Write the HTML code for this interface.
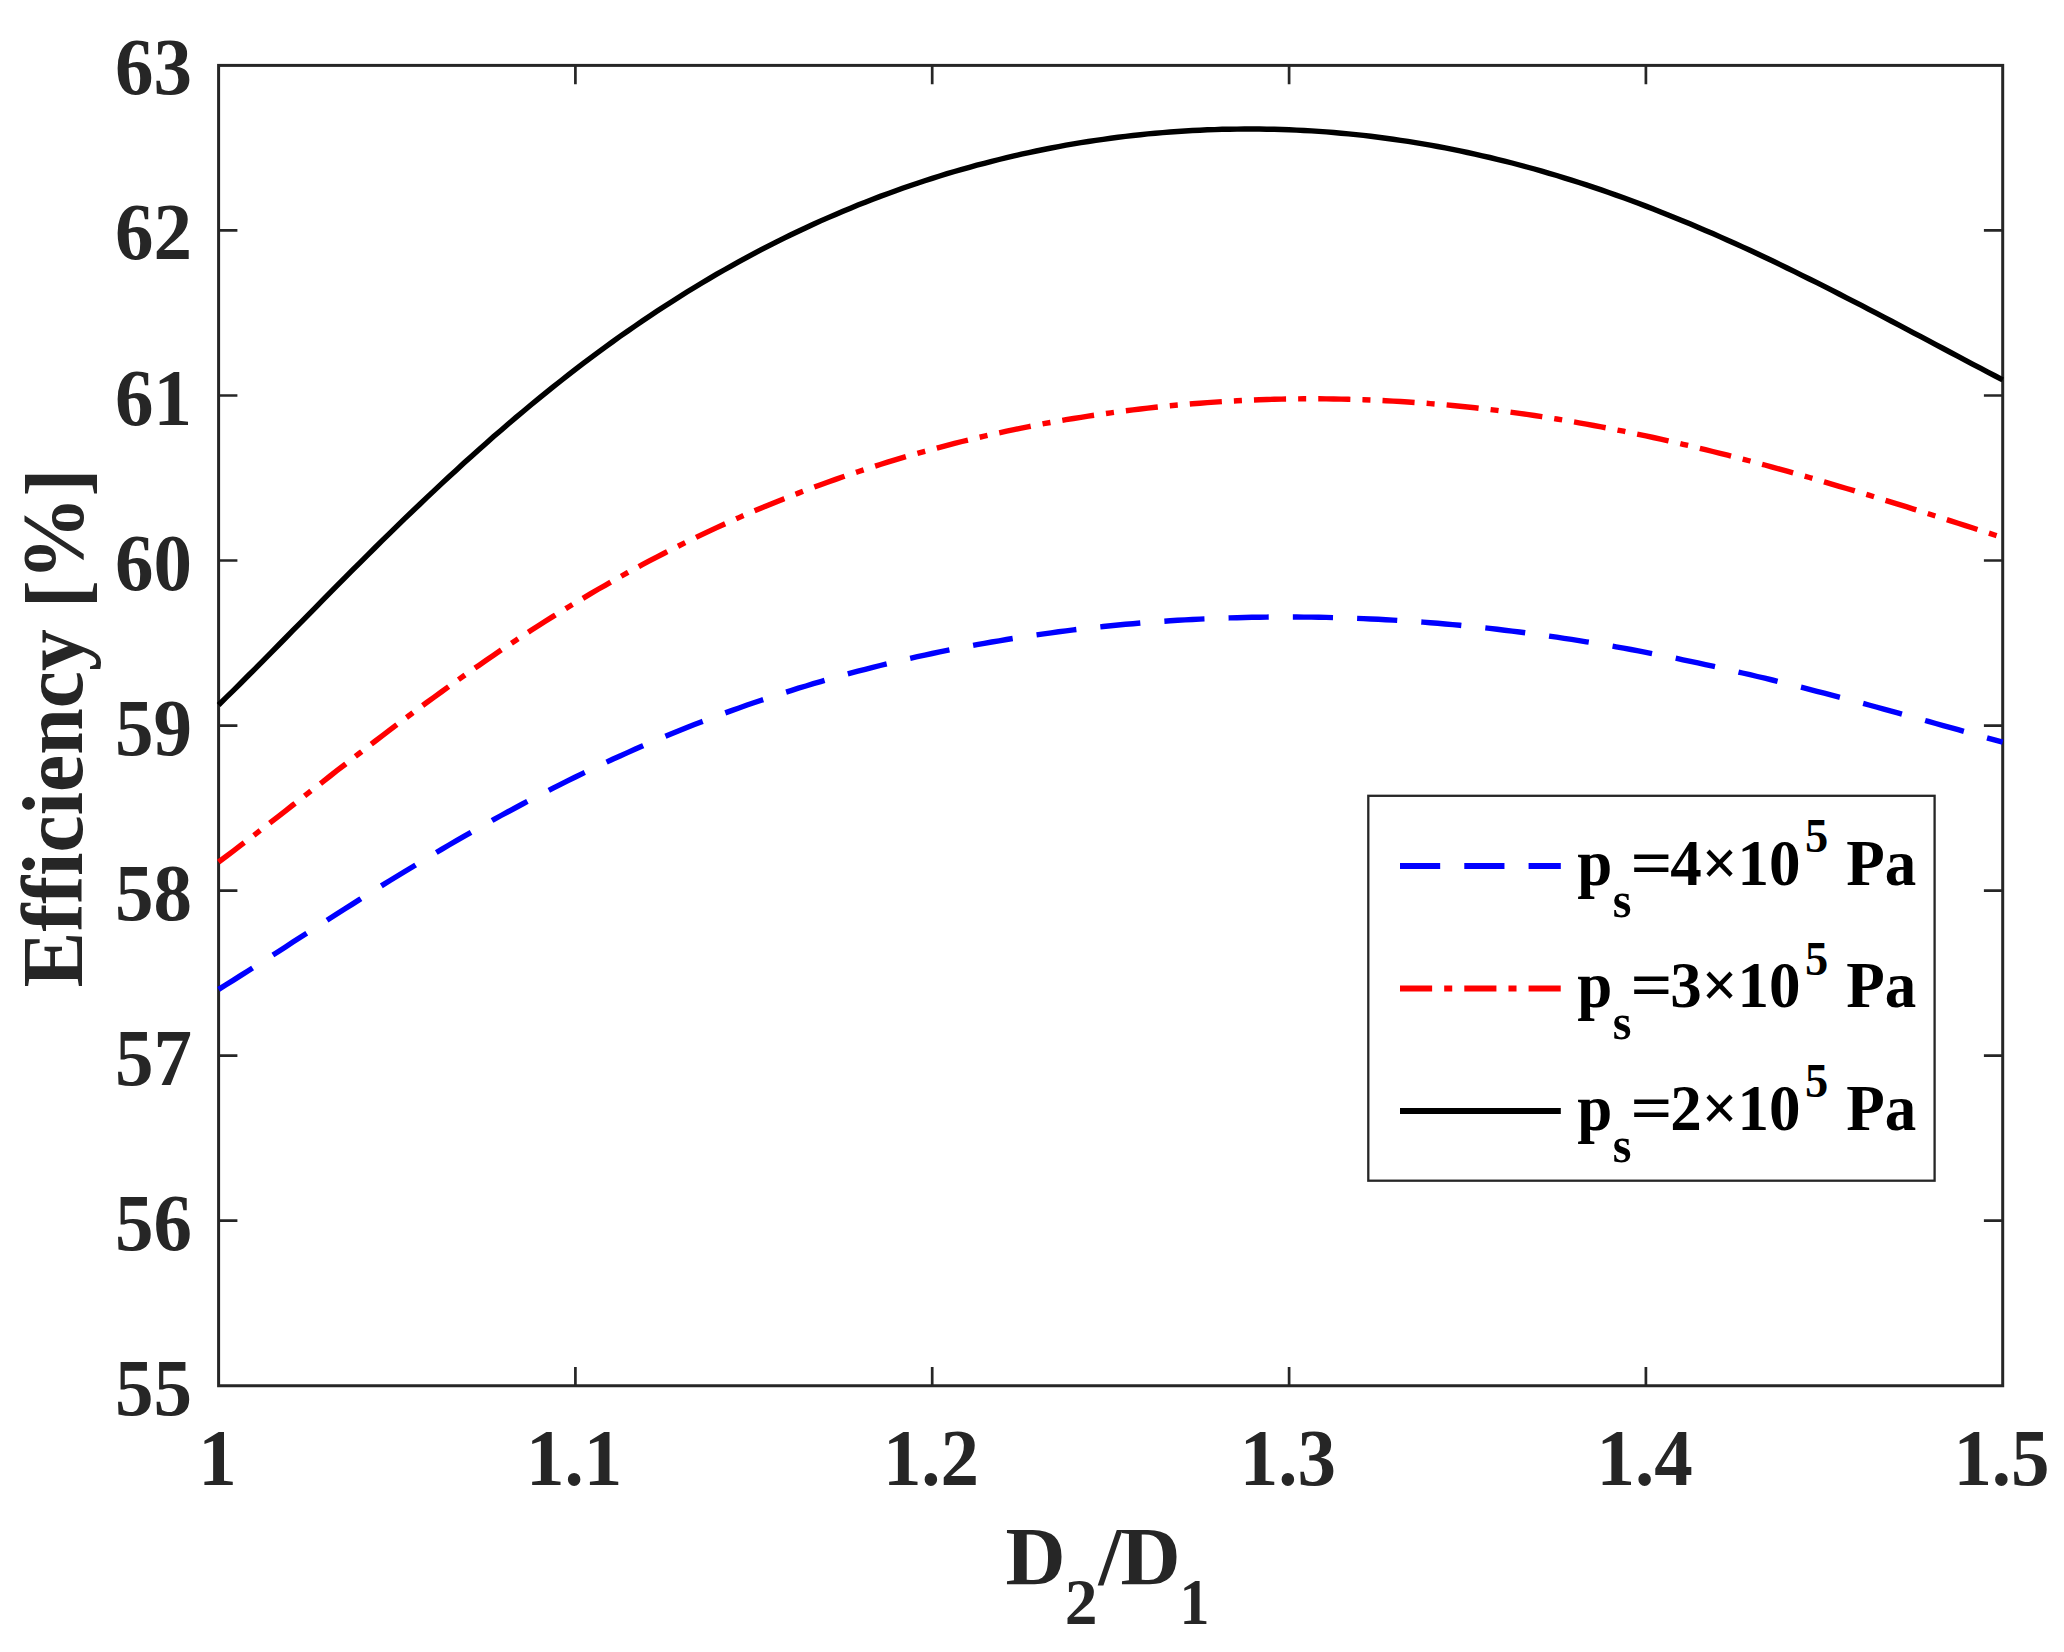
<!DOCTYPE html>
<html lang="en"><head><meta charset="utf-8"><title>Efficiency vs D2/D1</title>
<style>
html,body{margin:0;padding:0;background:#fff;}
svg{display:block;}
text{font-family:"Liberation Serif","Times New Roman",serif;font-weight:bold;font-variant-ligatures:none;font-kerning:none;}
.t{fill:#262626;}
.l{fill:#000;}
</style></head>
<body>
<svg width="2064" height="1652" viewBox="0 0 2064 1652">
<rect x="0" y="0" width="2064" height="1652" fill="#fff"/>
<path d="M575.4 1385.8 V1367.0 M575.4 65.4 V84.2 M932.2 1385.8 V1367.0 M932.2 65.4 V84.2 M1289.1 1385.8 V1367.0 M1289.1 65.4 V84.2 M1645.9 1385.8 V1367.0 M1645.9 65.4 V84.2 M218.6 1220.7 H237.4 M2002.7 1220.7 H1983.9 M218.6 1055.7 H237.4 M2002.7 1055.7 H1983.9 M218.6 890.6 H237.4 M2002.7 890.6 H1983.9 M218.6 725.6 H237.4 M2002.7 725.6 H1983.9 M218.6 560.5 H237.4 M2002.7 560.5 H1983.9 M218.6 395.5 H237.4 M2002.7 395.5 H1983.9 M218.6 230.4 H237.4 M2002.7 230.4 H1983.9" stroke="#262626" stroke-width="2.7" fill="none"/>
<rect x="218.6" y="65.4" width="1784.1" height="1320.35" fill="none" stroke="#262626" stroke-width="3"/>
<path d="M218.6 989.4 L226.0 984.7 L233.5 980.1 L240.9 975.4 L248.3 970.7 L255.8 965.9 L263.2 961.2 L270.6 956.4 L278.1 951.7 L285.5 946.9 L292.9 942.1 L300.4 937.3 L307.8 932.6 L315.2 927.8 L322.7 923.0 L330.1 918.3 L337.5 913.5 L345.0 908.8 L352.4 904.1 L359.8 899.4 L367.3 894.7 L374.7 890.1 L382.1 885.4 L389.6 880.8 L397.0 876.3 L404.4 871.7 L411.9 867.2 L419.3 862.7 L426.7 858.2 L434.2 853.8 L441.6 849.4 L449.0 845.0 L456.5 840.7 L463.9 836.4 L471.3 832.2 L478.8 827.9 L486.2 823.8 L493.6 819.6 L501.1 815.5 L508.5 811.5 L516.0 807.5 L523.4 803.5 L530.8 799.6 L538.3 795.7 L545.7 791.9 L553.1 788.1 L560.6 784.3 L568.0 780.6 L575.4 777.0 L582.9 773.3 L590.3 769.8 L597.7 766.2 L605.2 762.8 L612.6 759.3 L620.0 756.0 L627.5 752.6 L634.9 749.3 L642.3 746.1 L649.8 742.9 L657.2 739.7 L664.6 736.6 L672.1 733.5 L679.5 730.5 L686.9 727.5 L694.4 724.6 L701.8 721.7 L709.2 718.9 L716.7 716.1 L724.1 713.3 L731.5 710.6 L739.0 708.0 L746.4 705.3 L753.8 702.8 L761.3 700.2 L768.7 697.8 L776.1 695.3 L783.6 692.9 L791.0 690.6 L798.4 688.2 L805.9 686.0 L813.3 683.7 L820.7 681.6 L828.2 679.4 L835.6 677.3 L843.0 675.2 L850.5 673.2 L857.9 671.2 L865.3 669.3 L872.8 667.4 L880.2 665.5 L887.6 663.7 L895.1 661.9 L902.5 660.1 L909.9 658.4 L917.4 656.7 L924.8 655.1 L932.2 653.5 L939.7 651.9 L947.1 650.4 L954.5 648.9 L962.0 647.5 L969.4 646.1 L976.8 644.7 L984.3 643.3 L991.7 642.0 L999.1 640.8 L1006.6 639.5 L1014.0 638.3 L1021.4 637.2 L1028.9 636.0 L1036.3 634.9 L1043.7 633.9 L1051.2 632.8 L1058.6 631.8 L1066.0 630.9 L1073.5 629.9 L1080.9 629.0 L1088.3 628.2 L1095.8 627.3 L1103.2 626.5 L1110.7 625.8 L1118.1 625.0 L1125.5 624.3 L1133.0 623.7 L1140.4 623.0 L1147.8 622.4 L1155.3 621.9 L1162.7 621.3 L1170.1 620.8 L1177.6 620.3 L1185.0 619.9 L1192.4 619.5 L1199.9 619.1 L1207.3 618.8 L1214.7 618.4 L1222.2 618.1 L1229.6 617.9 L1237.0 617.7 L1244.5 617.5 L1251.9 617.3 L1259.3 617.2 L1266.8 617.1 L1274.2 617.0 L1281.6 617.0 L1289.1 617.0 L1296.5 617.0 L1303.9 617.1 L1311.4 617.1 L1318.8 617.3 L1326.2 617.4 L1333.7 617.6 L1341.1 617.8 L1348.5 618.0 L1356.0 618.3 L1363.4 618.6 L1370.8 619.0 L1378.3 619.3 L1385.7 619.7 L1393.1 620.1 L1400.6 620.6 L1408.0 621.1 L1415.4 621.6 L1422.9 622.1 L1430.3 622.7 L1437.7 623.3 L1445.2 624.0 L1452.6 624.6 L1460.0 625.3 L1467.5 626.1 L1474.9 626.8 L1482.3 627.6 L1489.8 628.4 L1497.2 629.3 L1504.6 630.2 L1512.1 631.1 L1519.5 632.0 L1526.9 633.0 L1534.4 634.0 L1541.8 635.0 L1549.2 636.1 L1556.7 637.2 L1564.1 638.3 L1571.5 639.4 L1579.0 640.6 L1586.4 641.8 L1593.8 643.0 L1601.3 644.3 L1608.7 645.5 L1616.1 646.8 L1623.6 648.2 L1631.0 649.5 L1638.4 650.9 L1645.9 652.3 L1653.3 653.8 L1660.7 655.2 L1668.2 656.7 L1675.6 658.2 L1683.0 659.8 L1690.5 661.4 L1697.9 662.9 L1705.4 664.6 L1712.8 666.2 L1720.2 667.8 L1727.7 669.5 L1735.1 671.2 L1742.5 673.0 L1750.0 674.7 L1757.4 676.5 L1764.8 678.2 L1772.3 680.0 L1779.7 681.9 L1787.1 683.7 L1794.6 685.6 L1802.0 687.4 L1809.4 689.3 L1816.9 691.3 L1824.3 693.2 L1831.7 695.1 L1839.2 697.1 L1846.6 699.0 L1854.0 701.0 L1861.5 703.0 L1868.9 705.0 L1876.3 707.0 L1883.8 709.1 L1891.2 711.1 L1898.6 713.1 L1906.1 715.2 L1913.5 717.3 L1920.9 719.3 L1928.4 721.4 L1935.8 723.5 L1943.2 725.6 L1950.7 727.6 L1958.1 729.7 L1965.5 731.8 L1973.0 733.9 L1980.4 736.0 L1987.8 738.1 L1995.3 740.2 L2002.7 742.2" fill="none" stroke="#0000ff" stroke-width="5.4" stroke-dasharray="40.18 24.11"/>
<path d="M218.6 862.0 L226.0 856.5 L233.5 850.9 L240.9 845.2 L248.3 839.6 L255.8 833.9 L263.2 828.1 L270.6 822.4 L278.1 816.6 L285.5 810.8 L292.9 805.0 L300.4 799.2 L307.8 793.4 L315.2 787.6 L322.7 781.8 L330.1 776.0 L337.5 770.2 L345.0 764.5 L352.4 758.7 L359.8 753.0 L367.3 747.2 L374.7 741.5 L382.1 735.9 L389.6 730.2 L397.0 724.6 L404.4 719.0 L411.9 713.5 L419.3 708.0 L426.7 702.5 L434.2 697.1 L441.6 691.7 L449.0 686.3 L456.5 681.0 L463.9 675.8 L471.3 670.5 L478.8 665.4 L486.2 660.2 L493.6 655.2 L501.1 650.1 L508.5 645.2 L516.0 640.2 L523.4 635.4 L530.8 630.5 L538.3 625.8 L545.7 621.0 L553.1 616.4 L560.6 611.8 L568.0 607.2 L575.4 602.7 L582.9 598.3 L590.3 593.9 L597.7 589.5 L605.2 585.3 L612.6 581.0 L620.0 576.9 L627.5 572.7 L634.9 568.7 L642.3 564.7 L649.8 560.7 L657.2 556.8 L664.6 553.0 L672.1 549.2 L679.5 545.5 L686.9 541.8 L694.4 538.2 L701.8 534.6 L709.2 531.1 L716.7 527.6 L724.1 524.2 L731.5 520.9 L739.0 517.6 L746.4 514.3 L753.8 511.1 L761.3 508.0 L768.7 504.9 L776.1 501.9 L783.6 498.9 L791.0 495.9 L798.4 493.1 L805.9 490.2 L813.3 487.4 L820.7 484.7 L828.2 482.0 L835.6 479.4 L843.0 476.8 L850.5 474.2 L857.9 471.7 L865.3 469.3 L872.8 466.9 L880.2 464.5 L887.6 462.2 L895.1 459.9 L902.5 457.7 L909.9 455.5 L917.4 453.4 L924.8 451.3 L932.2 449.3 L939.7 447.3 L947.1 445.3 L954.5 443.4 L962.0 441.5 L969.4 439.7 L976.8 437.9 L984.3 436.2 L991.7 434.5 L999.1 432.8 L1006.6 431.2 L1014.0 429.6 L1021.4 428.1 L1028.9 426.6 L1036.3 425.1 L1043.7 423.7 L1051.2 422.4 L1058.6 421.0 L1066.0 419.7 L1073.5 418.5 L1080.9 417.3 L1088.3 416.1 L1095.8 415.0 L1103.2 413.9 L1110.7 412.8 L1118.1 411.8 L1125.5 410.8 L1133.0 409.9 L1140.4 409.0 L1147.8 408.1 L1155.3 407.3 L1162.7 406.5 L1170.1 405.8 L1177.6 405.0 L1185.0 404.4 L1192.4 403.7 L1199.9 403.2 L1207.3 402.6 L1214.7 402.1 L1222.2 401.6 L1229.6 401.2 L1237.0 400.8 L1244.5 400.4 L1251.9 400.1 L1259.3 399.8 L1266.8 399.5 L1274.2 399.3 L1281.6 399.1 L1289.1 399.0 L1296.5 398.9 L1303.9 398.8 L1311.4 398.8 L1318.8 398.8 L1326.2 398.9 L1333.7 399.0 L1341.1 399.1 L1348.5 399.3 L1356.0 399.5 L1363.4 399.7 L1370.8 400.0 L1378.3 400.3 L1385.7 400.7 L1393.1 401.1 L1400.6 401.5 L1408.0 402.0 L1415.4 402.5 L1422.9 403.0 L1430.3 403.6 L1437.7 404.2 L1445.2 404.8 L1452.6 405.5 L1460.0 406.3 L1467.5 407.0 L1474.9 407.8 L1482.3 408.7 L1489.8 409.5 L1497.2 410.4 L1504.6 411.4 L1512.1 412.4 L1519.5 413.4 L1526.9 414.4 L1534.4 415.5 L1541.8 416.7 L1549.2 417.8 L1556.7 419.0 L1564.1 420.2 L1571.5 421.5 L1579.0 422.8 L1586.4 424.1 L1593.8 425.5 L1601.3 426.9 L1608.7 428.3 L1616.1 429.8 L1623.6 431.2 L1631.0 432.8 L1638.4 434.3 L1645.9 435.9 L1653.3 437.5 L1660.7 439.2 L1668.2 440.8 L1675.6 442.5 L1683.0 444.3 L1690.5 446.0 L1697.9 447.8 L1705.4 449.6 L1712.8 451.5 L1720.2 453.3 L1727.7 455.2 L1735.1 457.1 L1742.5 459.1 L1750.0 461.0 L1757.4 463.0 L1764.8 465.0 L1772.3 467.1 L1779.7 469.1 L1787.1 471.2 L1794.6 473.3 L1802.0 475.4 L1809.4 477.5 L1816.9 479.7 L1824.3 481.9 L1831.7 484.1 L1839.2 486.3 L1846.6 488.5 L1854.0 490.7 L1861.5 493.0 L1868.9 495.2 L1876.3 497.5 L1883.8 499.8 L1891.2 502.1 L1898.6 504.4 L1906.1 506.7 L1913.5 509.1 L1920.9 511.4 L1928.4 513.8 L1935.8 516.1 L1943.2 518.5 L1950.7 520.9 L1958.1 523.3 L1965.5 525.6 L1973.0 528.0 L1980.4 530.4 L1987.8 532.8 L1995.3 535.2 L2002.7 537.6" fill="none" stroke="#ff0000" stroke-width="5.4" stroke-dasharray="32.14 12.05 8.04 12.06"/>
<path d="M218.6 705.0 L226.0 697.7 L233.5 690.4 L240.9 683.0 L248.3 675.5 L255.8 668.1 L263.2 660.6 L270.6 653.1 L278.1 645.5 L285.5 638.0 L292.9 630.4 L300.4 622.9 L307.8 615.3 L315.2 607.8 L322.7 600.2 L330.1 592.7 L337.5 585.2 L345.0 577.7 L352.4 570.2 L359.8 562.8 L367.3 555.4 L374.7 548.0 L382.1 540.7 L389.6 533.4 L397.0 526.1 L404.4 518.9 L411.9 511.8 L419.3 504.7 L426.7 497.6 L434.2 490.6 L441.6 483.6 L449.0 476.7 L456.5 469.9 L463.9 463.1 L471.3 456.4 L478.8 449.7 L486.2 443.2 L493.6 436.6 L501.1 430.2 L508.5 423.8 L516.0 417.4 L523.4 411.2 L530.8 405.0 L538.3 398.9 L545.7 392.8 L553.1 386.9 L560.6 381.0 L568.0 375.2 L575.4 369.4 L582.9 363.7 L590.3 358.1 L597.7 352.6 L605.2 347.1 L612.6 341.7 L620.0 336.4 L627.5 331.2 L634.9 326.1 L642.3 321.0 L649.8 316.0 L657.2 311.0 L664.6 306.2 L672.1 301.4 L679.5 296.7 L686.9 292.0 L694.4 287.5 L701.8 283.0 L709.2 278.6 L716.7 274.2 L724.1 270.0 L731.5 265.8 L739.0 261.7 L746.4 257.6 L753.8 253.6 L761.3 249.7 L768.7 245.9 L776.1 242.1 L783.6 238.4 L791.0 234.8 L798.4 231.2 L805.9 227.7 L813.3 224.3 L820.7 220.9 L828.2 217.6 L835.6 214.4 L843.0 211.3 L850.5 208.2 L857.9 205.1 L865.3 202.2 L872.8 199.3 L880.2 196.4 L887.6 193.7 L895.1 191.0 L902.5 188.3 L909.9 185.7 L917.4 183.2 L924.8 180.8 L932.2 178.4 L939.7 176.0 L947.1 173.7 L954.5 171.5 L962.0 169.4 L969.4 167.3 L976.8 165.2 L984.3 163.3 L991.7 161.3 L999.1 159.5 L1006.6 157.7 L1014.0 155.9 L1021.4 154.2 L1028.9 152.6 L1036.3 151.0 L1043.7 149.5 L1051.2 148.0 L1058.6 146.6 L1066.0 145.2 L1073.5 143.9 L1080.9 142.7 L1088.3 141.5 L1095.8 140.4 L1103.2 139.3 L1110.7 138.3 L1118.1 137.3 L1125.5 136.4 L1133.0 135.5 L1140.4 134.7 L1147.8 133.9 L1155.3 133.2 L1162.7 132.6 L1170.1 132.0 L1177.6 131.5 L1185.0 131.0 L1192.4 130.5 L1199.9 130.2 L1207.3 129.8 L1214.7 129.6 L1222.2 129.3 L1229.6 129.2 L1237.0 129.1 L1244.5 129.0 L1251.9 129.0 L1259.3 129.0 L1266.8 129.2 L1274.2 129.3 L1281.6 129.5 L1289.1 129.8 L1296.5 130.1 L1303.9 130.5 L1311.4 130.9 L1318.8 131.4 L1326.2 131.9 L1333.7 132.5 L1341.1 133.2 L1348.5 133.9 L1356.0 134.6 L1363.4 135.4 L1370.8 136.3 L1378.3 137.2 L1385.7 138.2 L1393.1 139.2 L1400.6 140.3 L1408.0 141.4 L1415.4 142.6 L1422.9 143.8 L1430.3 145.1 L1437.7 146.5 L1445.2 147.9 L1452.6 149.4 L1460.0 150.9 L1467.5 152.5 L1474.9 154.1 L1482.3 155.8 L1489.8 157.5 L1497.2 159.3 L1504.6 161.1 L1512.1 163.0 L1519.5 165.0 L1526.9 167.0 L1534.4 169.0 L1541.8 171.2 L1549.2 173.3 L1556.7 175.5 L1564.1 177.8 L1571.5 180.1 L1579.0 182.5 L1586.4 184.9 L1593.8 187.4 L1601.3 189.9 L1608.7 192.5 L1616.1 195.1 L1623.6 197.8 L1631.0 200.5 L1638.4 203.3 L1645.9 206.1 L1653.3 209.0 L1660.7 211.9 L1668.2 214.9 L1675.6 217.9 L1683.0 221.0 L1690.5 224.0 L1697.9 227.2 L1705.4 230.4 L1712.8 233.6 L1720.2 236.9 L1727.7 240.2 L1735.1 243.5 L1742.5 246.9 L1750.0 250.3 L1757.4 253.8 L1764.8 257.3 L1772.3 260.8 L1779.7 264.4 L1787.1 268.0 L1794.6 271.6 L1802.0 275.3 L1809.4 279.0 L1816.9 282.7 L1824.3 286.4 L1831.7 290.2 L1839.2 294.0 L1846.6 297.8 L1854.0 301.6 L1861.5 305.4 L1868.9 309.3 L1876.3 313.2 L1883.8 317.1 L1891.2 321.0 L1898.6 324.9 L1906.1 328.8 L1913.5 332.8 L1920.9 336.7 L1928.4 340.6 L1935.8 344.6 L1943.2 348.5 L1950.7 352.5 L1958.1 356.4 L1965.5 360.3 L1973.0 364.3 L1980.4 368.2 L1987.8 372.1 L1995.3 376.0 L2002.7 379.8" fill="none" stroke="#000" stroke-width="5.4"/>
<text class="t" transform="translate(217.4 1484.6) scale(1.000 1.040)" font-size="77.0" text-anchor="middle">1</text>
<text class="t" transform="translate(574.2 1484.6) scale(1.000 1.040)" font-size="77.0" text-anchor="middle">1.1</text>
<text class="t" transform="translate(931.0 1484.6) scale(1.000 1.040)" font-size="77.0" text-anchor="middle">1.2</text>
<text class="t" transform="translate(1287.9 1484.6) scale(1.000 1.040)" font-size="77.0" text-anchor="middle">1.3</text>
<text class="t" transform="translate(1644.7 1484.6) scale(1.000 1.040)" font-size="77.0" text-anchor="middle">1.4</text>
<text class="t" transform="translate(2001.5 1484.6) scale(1.000 1.040)" font-size="77.0" text-anchor="middle">1.5</text>
<text class="t" transform="translate(192.0 1414.8) scale(1.000 1.040)" font-size="77.0" text-anchor="end">55</text>
<text class="t" transform="translate(192.0 1249.7) scale(1.000 1.040)" font-size="77.0" text-anchor="end">56</text>
<text class="t" transform="translate(192.0 1084.7) scale(1.000 1.040)" font-size="77.0" text-anchor="end">57</text>
<text class="t" transform="translate(192.0 919.6) scale(1.000 1.040)" font-size="77.0" text-anchor="end">58</text>
<text class="t" transform="translate(192.0 754.6) scale(1.000 1.040)" font-size="77.0" text-anchor="end">59</text>
<text class="t" transform="translate(192.0 589.5) scale(1.000 1.040)" font-size="77.0" text-anchor="end">60</text>
<text class="t" transform="translate(192.0 424.5) scale(1.000 1.040)" font-size="77.0" text-anchor="end">61</text>
<text class="t" transform="translate(192.0 259.4) scale(1.000 1.040)" font-size="77.0" text-anchor="end">62</text>
<text class="t" transform="translate(192.0 94.4) scale(1.000 1.040)" font-size="77.0" text-anchor="end">63</text>
<text class="t" transform="translate(81.9 987.5) rotate(-90) scale(1 1.04)" font-size="83.8">Efficiency <tspan dy="3.4">[</tspan><tspan dy="-3.4">%</tspan><tspan dy="3.4">]</tspan></text>
<text class="t" font-size="83.2"><tspan x="1005.5" y="1583.9">D</tspan><tspan x="1064.7" y="1623.5" font-size="65.5">2</tspan><tspan x="1098.4" y="1583.9">/</tspan><tspan x="1120.4" y="1583.9">D</tspan><tspan x="1179.4" y="1623.5" font-size="65.5" textLength="30" lengthAdjust="spacingAndGlyphs">1</tspan></text>
<rect x="1368.3" y="795.8" width="566.3" height="384.9" fill="#fff" stroke="#262626" stroke-width="2.3"/>
<path d="M1400 865.9 H1560.8" stroke="#0000ff" stroke-width="6" stroke-dasharray="40.18 24.11" fill="none"/>
<text class="l" transform="translate(0 884.8) scale(1 1.04)" font-size="63.0"><tspan x="1577.3" y="0">p</tspan><tspan x="1612.7" y="30.6" font-size="48.0">s</tspan><tspan x="1630.4" y="0" textLength="42" lengthAdjust="spacingAndGlyphs">=</tspan><tspan x="1670.2" y="0">4×10</tspan><tspan x="1804.9" y="-31.2" font-size="46.5">5</tspan><tspan x="1846.3" y="0">Pa</tspan></text>
<path d="M1400 988.4 H1560.8" stroke="#ff0000" stroke-width="6" stroke-dasharray="32.14 12.05 8.04 12.06" fill="none"/>
<text class="l" transform="translate(0 1007.3) scale(1 1.04)" font-size="63.0"><tspan x="1577.3" y="0">p</tspan><tspan x="1612.7" y="30.6" font-size="48.0">s</tspan><tspan x="1630.4" y="0" textLength="42" lengthAdjust="spacingAndGlyphs">=</tspan><tspan x="1670.2" y="0">3×10</tspan><tspan x="1804.9" y="-31.2" font-size="46.5">5</tspan><tspan x="1846.3" y="0">Pa</tspan></text>
<path d="M1400 1111.0 H1560.8" stroke="#000" stroke-width="6" fill="none"/>
<text class="l" transform="translate(0 1129.9) scale(1 1.04)" font-size="63.0"><tspan x="1577.3" y="0">p</tspan><tspan x="1612.7" y="30.6" font-size="48.0">s</tspan><tspan x="1630.4" y="0" textLength="42" lengthAdjust="spacingAndGlyphs">=</tspan><tspan x="1670.2" y="0">2×10</tspan><tspan x="1804.9" y="-31.2" font-size="46.5">5</tspan><tspan x="1846.3" y="0">Pa</tspan></text>
</svg>
</body></html>
